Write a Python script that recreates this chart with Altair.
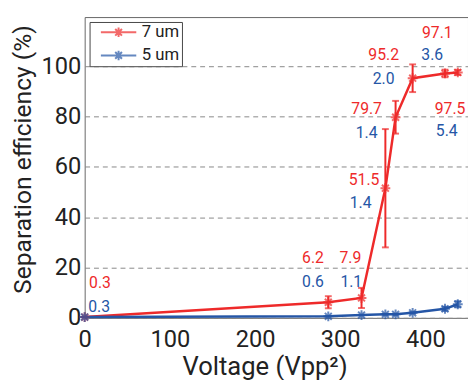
import altair as alt
import pandas as pd

# ---- data ----
voltage = [0, 286, 325, 353, 365, 385, 423, 438]
eff_7um = [0.3, 6.2, 7.9, 51.5, 79.7, 95.2, 97.1, 97.5]
err_7um = [0.0, 2.4, 4.0, 23.5, 6.5, 5.5, 1.5, 1.0]
eff_5um = [0.3, 0.6, 1.1, 1.4, 1.4, 2.0, 3.6, 5.4]
err_5um = [0.0, 0.0, 0.0, 0.2, 0.2, 0.3, 0.8, 1.2]
series = ["7 um", "5 um"]
colors = ["#EE2A2A", "#2556A6"]

# annotation anchor positions (data units)
lab_x_7um = [18, 268, 312, 328, 331, 351, 414, 429]
lab_y_7um = [13.9, 23.8, 23.8, 54.7, 83.0, 104.5, 113.3, 83.0]
lab_x_5um = [17, 268, 313, 324, 331, 351, 408, 425]
lab_y_5um = [4.3, 14.3, 14.3, 45.5, 73.4, 94.7, 104.5, 74.4]

x_ticks = [0, 100, 200, 300, 400]
y_ticks = [0, 20, 40, 60, 80, 100]

rows = []
for s, effs, errs, lx, ly in [
    (series[0], eff_7um, err_7um, lab_x_7um, lab_y_7um),
    (series[1], eff_5um, err_5um, lab_x_5um, lab_y_5um),
]:
    for v, e, er, x, y in zip(voltage, effs, errs, lx, ly):
        rows.append(dict(series=s, voltage=v, eff=e, lo=e - er, hi=e + er,
                         lab_x=x, lab_y=y))
df = pd.DataFrame(rows)

FONT = "Roboto"
star = "M-1,0H1M0,-1V1M-0.7,-0.7L0.7,0.7M-0.7,0.7L0.7,-0.7"
legend_sym = "M-3,0H3M-0.8,0H0.8M0,-0.8V0.8M-0.57,-0.57L0.57,0.57M-0.57,0.57L0.57,-0.57"

legend = alt.Legend(
    title=None, orient="none", legendX=5, legendY=5, direction="vertical",
    symbolType=legend_sym, symbolSize=144, symbolStrokeWidth=2,
    symbolFillColor="transparent",
    labelFont=FONT, labelFontSize=17, labelColor="#222",
    fillColor="white", strokeColor="#444", padding=2, rowPadding=4.5,
    symbolOffset=19, labelOffset=15,
)
color = alt.Color("series:N", scale=alt.Scale(domain=series, range=colors), legend=legend)

xscale = alt.Scale(domain=[0, 450], nice=False, zero=False)
yscale = alt.Scale(domain=[0, 119.5], nice=False, zero=False)

xaxis = alt.Axis(
    values=x_ticks, title="Voltage (Vpp²)", grid=False, domain=False,
    ticks=False, tickSize=0, labelPadding=10, labelFont=FONT, labelFontSize=24,
    labelColor="#222", titleFont=FONT, titleFontSize=26, titleFontWeight="normal",
    titleColor="#222", titleX=183, titleY=50, titleAlign="center",
    titleBaseline="middle", labelFlush=False,
)
yaxis = alt.Axis(
    values=y_ticks, title="Separation efficiency (%)", grid=True,
    gridDash=[5, 4], gridColor="#888", gridWidth=1, domain=False, ticks=False,
    tickSize=0, labelPadding=4, labelFont=FONT, labelFontSize=24,
    labelColor="#222", titleFont=FONT, titleFontSize=25,
    titleFontWeight="normal", titleColor="#222", titleX=-63, titleY=144.5,
    titleAngle=270, titleAlign="center", titleBaseline="middle",
)

base = alt.Chart(df)
x = alt.X("voltage:Q", scale=xscale, axis=xaxis)
y = alt.Y("eff:Q", scale=yscale, axis=yaxis)

lines = base.mark_line(strokeWidth=2.5).encode(x=x, y=y, color=color, order="voltage:Q")
bars = base.mark_rule(strokeWidth=2).encode(
    x="voltage:Q", y=alt.Y("lo:Q", scale=yscale), y2="hi:Q", color=color)
cap_lo = base.mark_tick(orient="horizontal", size=7, thickness=2).encode(
    x="voltage:Q", y=alt.Y("lo:Q", scale=yscale), color=color)
cap_hi = base.mark_tick(orient="horizontal", size=7, thickness=2).encode(
    x="voltage:Q", y=alt.Y("hi:Q", scale=yscale), color=color)
points = base.mark_point(shape=star, size=100, strokeWidth=2, filled=False).encode(
    x="voltage:Q", y="eff:Q", color=color)
labels = base.mark_text(font=FONT, fontSize=16, align="center", baseline="middle").encode(
    x=alt.X("lab_x:Q", scale=xscale), y=alt.Y("lab_y:Q", scale=yscale),
    text=alt.Text("eff:Q", format=".1f"), color=color)

chart = alt.layer(lines, bars, cap_lo, cap_hi, points, labels).properties(
    width=390, height=306,
    autosize=alt.AutoSizeParams(type="none"),
    padding={"left": 78, "top": 6, "right": 0, "bottom": 60},
    background="white",
).configure_view(stroke="#666", strokeWidth=1)

chart.save("out.html", embed_options={"renderer": "svg", "actions": False})
